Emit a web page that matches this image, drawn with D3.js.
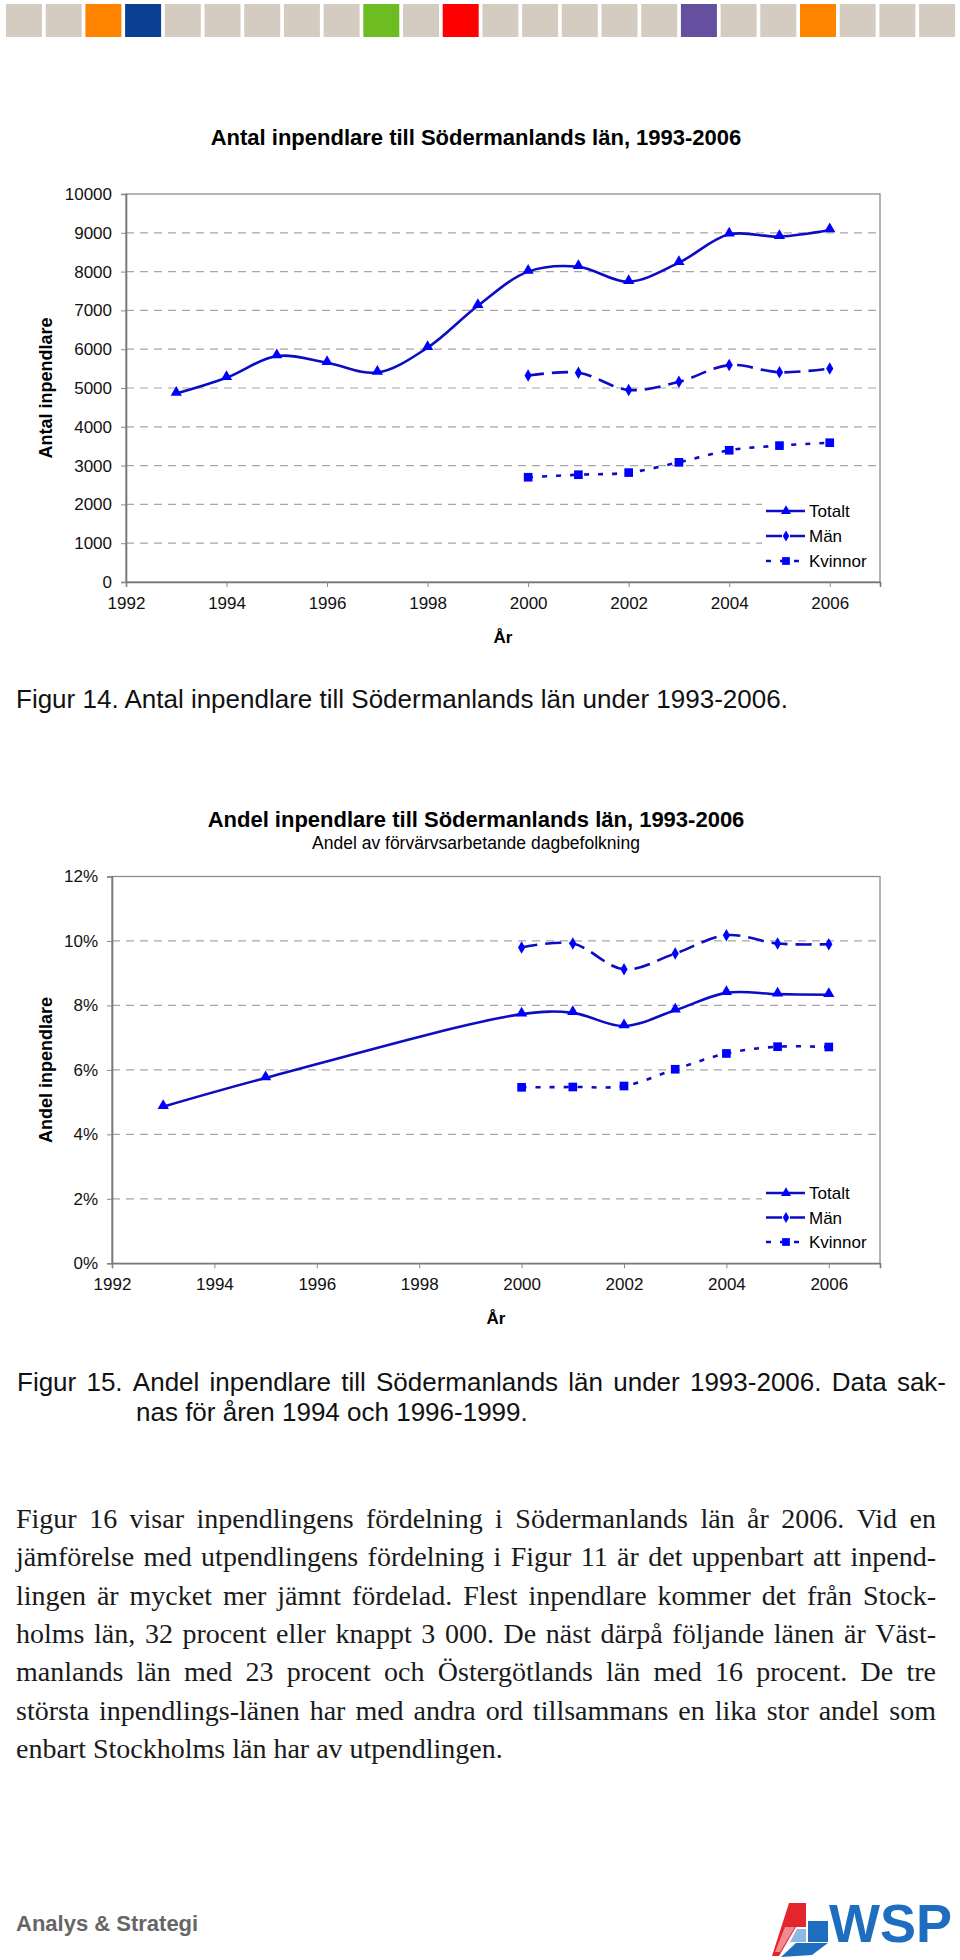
<!DOCTYPE html>
<html><head><meta charset="utf-8">
<script src="https://cdn.jsdelivr.net/npm/d3@7"></script>
<style>body{margin:0;background:#fff}svg{display:block}</style>
</head><body>
<svg id="c" width="960" height="1960"></svg>
<script>
// ---------- data ----------
const headerColors = ["#d4ccc0","#d4ccc0","#ff8400","#0a3f91","#d4ccc0","#d4ccc0","#d4ccc0","#d4ccc0","#d4ccc0","#6dbd22","#d4ccc0","#ff0000","#d4ccc0","#d4ccc0","#d4ccc0","#d4ccc0","#d4ccc0","#6550a0","#d4ccc0","#d4ccc0","#ff8400","#d4ccc0","#d4ccc0","#d4ccc0"];

const xTickYears = [1992,1994,1996,1998,2000,2002,2004,2006];

const antalYearsTot = [1993,1994,1995,1996,1997,1998,1999,2000,2001,2002,2003,2004,2005,2006];
const antalTotalt   = [4860,5265,5825,5650,5400,6040,7120,8000,8125,7740,8230,8960,8900,9070];
const antalYearsMK  = [2000,2001,2002,2003,2004,2005,2006];
const antalMan      = [5320,5395,4950,5160,5590,5405,5500];
const antalKvinnor  = [2700,2765,2820,3085,3395,3515,3590];
const antalTicks    = [0,1000,2000,3000,4000,5000,6000,7000,8000,9000,10000];

const andelYearsTot = [1993,1995,2000,2001,2002,2003,2004,2005,2006];
const andelTotalt   = [4.86,5.75,7.73,7.77,7.36,7.85,8.39,8.35,8.33];
const andelYearsMK  = [2000,2001,2002,2003,2004,2005,2006];
const andelMan      = [9.80,9.92,9.12,9.61,10.18,9.92,9.90];
const andelKvinnor  = [5.46,5.47,5.50,6.02,6.51,6.72,6.71];
const andelTicks    = [0,2,4,6,8,10,12];

const seriesNames = ["Totalt","Män","Kvinnor"];

const bodyLines = [
 "Figur 16 visar inpendlingens fördelning i Södermanlands län år 2006. Vid en",
 "jämförelse med utpendlingens fördelning i Figur 11 är det uppenbart att inpend-",
 "lingen är mycket mer jämnt fördelad. Flest inpendlare kommer det från Stock-",
 "holms län, 32 procent eller knappt 3 000. De näst därpå följande länen är Väst-",
 "manlands län med 23 procent och Östergötlands län med 16 procent. De tre",
 "största inpendlings-länen har med andra ord tillsammans en lika stor andel som",
 "enbart Stockholms län har av utpendlingen."
];

// ---------- drawing ----------
const svg = d3.select("#c");
svg.append("rect").attr("width",960).attr("height",1960).attr("fill","#fff");
const SANS = "'Liberation Sans', Arial, Helvetica, sans-serif";
const SERIF = "'Liberation Serif', 'Times New Roman', serif";
const LINE_C = "#0c0cc4", MARK_C = "#0000ff";

// header bar
svg.append("g").selectAll("rect").data(headerColors).join("rect")
  .attr("x",(d,i)=>6+i*39.7).attr("y",4).attr("width",36).attr("height",33).attr("fill",d=>d);

const styles = {
  "Totalt": {dash:null, sym:d3.symbolTriangle, size:55},
  "Män": {dash:"16,8", sym:d3.symbolDiamond, size:45},
  "Kvinnor": {dash:"5,9", sym:d3.symbolSquare, size:75}
};

function chart(cfg){
  const g = svg.append("g");
  const x = d3.scaleLinear().domain([1992,2007]).range([cfg.left,cfg.right]);
  const y = d3.scaleLinear().domain([0,cfg.ymax]).range([cfg.bottom,cfg.top]);

  // title
  g.append("text").attr("x",cfg.titleX).attr("y",cfg.titleY).attr("text-anchor","middle")
    .style("font-family",SANS).style("font-weight","bold").style("font-size","22px").text(cfg.title);
  if(cfg.subtitle){
    g.append("text").attr("x",cfg.titleX).attr("y",cfg.subY).attr("text-anchor","middle")
      .style("font-family",SANS).style("font-size","17.5px").text(cfg.subtitle);
  }
  // gridlines
  g.append("g").selectAll("line").data(cfg.ticks.filter(t=>t>0 && t<cfg.ymax)).join("line")
    .attr("x1",cfg.left).attr("x2",cfg.right).attr("y1",d=>y(d)).attr("y2",d=>y(d))
    .attr("stroke","#a6a6a6").attr("stroke-width",1.2).attr("stroke-dasharray","8,6");
  // frame
  g.append("rect").attr("x",cfg.left).attr("y",cfg.top).attr("width",cfg.right-cfg.left).attr("height",cfg.bottom-cfg.top)
    .attr("fill","none").attr("stroke","#8c8c8c").attr("stroke-width",1.3);
  // y axis
  const ya = g.append("g").attr("transform",`translate(${cfg.left},0)`)
    .call(d3.axisLeft(y).tickValues(cfg.ticks).tickSize(5).tickPadding(cfg.ypad).tickFormat(cfg.fmt));
  ya.select(".domain").attr("stroke","#777").attr("stroke-width",1.6);
  ya.selectAll(".tick line").attr("stroke","#888");
  ya.selectAll("text").style("font-family",SANS).style("font-size","17px").attr("fill","#111");
  // x axis
  const xa = g.append("g").attr("transform",`translate(0,${cfg.bottom})`)
    .call(d3.axisBottom(x).tickValues(xTickYears).tickSize(5).tickPadding(10).tickFormat(d3.format("d")));
  xa.select(".domain").attr("stroke","#777").attr("stroke-width",1.6);
  xa.selectAll(".tick line").attr("stroke","#888");
  xa.selectAll("text").style("font-family",SANS).style("font-size","17px").attr("fill","#111");
  // axis titles
  g.append("text").attr("x",(cfg.left+cfg.right)/2).attr("y",cfg.xTitleY).attr("text-anchor","middle")
    .style("font-family",SANS).style("font-weight","bold").style("font-size","17px").text("År");
  g.append("text").attr("transform",`translate(${cfg.yTitleX},${(cfg.top+cfg.bottom)/2}) rotate(-90)`)
    .attr("text-anchor","middle").style("font-family",SANS).style("font-weight","bold").style("font-size","18px").text(cfg.yTitle);

  // series
  const line = d3.line().x(d=>x(d[0])).y(d=>y(d[1])).curve(d3.curveCatmullRom.alpha(0.5));
  cfg.series.forEach(s=>{
    const st = styles[s.name];
    const pts = s.years.map((yr,i)=>[yr,s.values[i]]);
    g.append("path").datum(pts).attr("d",line).attr("fill","none").attr("stroke",LINE_C)
      .attr("stroke-width",2.6).attr("stroke-dasharray",st.dash);
    g.append("g").selectAll("path").data(pts).join("path")
      .attr("transform",d=>`translate(${x(d[0])},${y(d[1]) + (st.sym===d3.symbolTriangle?-1:0)})`)
      .attr("d",d3.symbol(st.sym,st.size)).attr("fill",MARK_C);
  });

  // legend
  const lg = g.append("g");
  lg.append("rect").attr("x",762).attr("y",cfg.legY-16).attr("width",cfg.right-763).attr("height",72).attr("fill","#fff");
  seriesNames.forEach((n,i)=>{
    const st = styles[n]; const ly = cfg.legY + i*cfg.legStep;
    lg.append("line").attr("x1",766).attr("x2",805).attr("y1",ly).attr("y2",ly)
      .attr("stroke",LINE_C).attr("stroke-width",2.6).attr("stroke-dasharray",st.dash);
    lg.append("path").attr("transform",`translate(786,${ly})`).attr("d",d3.symbol(st.sym,st.size*0.8)).attr("fill",MARK_C);
    lg.append("text").attr("x",809).attr("y",ly+6).style("font-family",SANS).style("font-size","17px").text(n);
  });
}

chart({
  title:"Antal inpendlare till Södermanlands län, 1993-2006", titleX:476, titleY:145,
  left:126, right:880, top:194, bottom:582, ymax:10000, ticks:antalTicks, ypad:9,
  fmt:d3.format("d"), xTitleY:643, yTitleX:52, yTitle:"Antal inpendlare",
  legY:511, legStep:25,
  series:[{name:"Totalt",years:antalYearsTot,values:antalTotalt},
          {name:"Män",years:antalYearsMK,values:antalMan},
          {name:"Kvinnor",years:antalYearsMK,values:antalKvinnor}]
});

chart({
  title:"Andel inpendlare till Södermanlands län, 1993-2006", titleX:476, titleY:827,
  subtitle:"Andel av förvärvsarbetande dagbefolkning", subY:849,
  left:112, right:880, top:876.5, bottom:1263.3, ymax:12, ticks:andelTicks, ypad:9,
  fmt:d=>d+"%", xTitleY:1324, yTitleX:52, yTitle:"Andel inpendlare",
  legY:1193, legStep:24.5,
  series:[{name:"Totalt",years:andelYearsTot,values:andelTotalt},
          {name:"Män",years:andelYearsMK,values:andelMan},
          {name:"Kvinnor",years:andelYearsMK,values:andelKvinnor}]
});

// justified line helper
function justify(words, x0, x1, yb, family, size, color){
  const nodes = words.map(w=>svg.append("text").attr("y",yb).style("font-family",family)
     .style("font-size",size+"px").attr("fill",color).text(w));
  const widths = nodes.map(n=>n.node().getComputedTextLength());
  const gap = (x1-x0-d3.sum(widths))/(words.length-1);
  let xx = x0;
  nodes.forEach((n,i)=>{ n.attr("x",xx); xx += widths[i]+gap; });
}

// captions
svg.append("text").attr("x",16).attr("y",708).style("font-family",SANS).style("font-size","26px").attr("fill","#111")
  .text("Figur 14. Antal inpendlare till Södermanlands län under 1993-2006.");
justify("Figur 15. Andel inpendlare till Södermanlands län under 1993-2006. Data sak-".split(" "),17,946,1391,SANS,26,"#111");
svg.append("text").attr("x",136).attr("y",1421).style("font-family",SANS).style("font-size","26px").attr("fill","#111")
  .text("nas för åren 1994 och 1996-1999.");

// body text
bodyLines.forEach((ln,i)=>{
  const yb = 1528 + i*38.3;
  if(i < bodyLines.length-1) justify(ln.split(" "),16,936,yb,SERIF,28,"#1a1a1a");
  else svg.append("text").attr("x",16).attr("y",yb).style("font-family",SERIF).style("font-size","28px").attr("fill","#1a1a1a").text(ln);
});

// footer
svg.append("text").attr("x",16).attr("y",1931).style("font-family",SANS).style("font-weight","bold")
  .style("font-size","22px").attr("fill","#666").text("Analys & Strategi");
const logo = svg.append("g");
const polys = [
  {c:"#e3262d", p:[[789,1903],[806,1903],[806,1927],[796,1927],[779,1956],[772,1956]]},
  {c:"#f08a8e", p:[[785,1927],[795,1927],[780,1952],[775,1952]]},
  {c:"#1f6dbf", p:[[808,1921],[828,1921],[828,1942],[808,1942]]},
  {c:"#1f6dbf", p:[[796,1943],[828,1943],[812,1955],[781,1957]]},
  {c:"#8fb8e3", p:[[797,1929],[806,1929],[806,1942],[790,1942]]}
];
logo.selectAll("polygon").data(polys).join("polygon").attr("points",d=>d.p.map(q=>q.join(",")).join(" ")).attr("fill",d=>d.c);
logo.append("text").attr("x",829).attr("y",1942).style("font-family",SANS).style("font-weight","bold")
  .style("font-size","54px").attr("fill","#1f6dbf").text("WSP");
</script>
</body></html>
